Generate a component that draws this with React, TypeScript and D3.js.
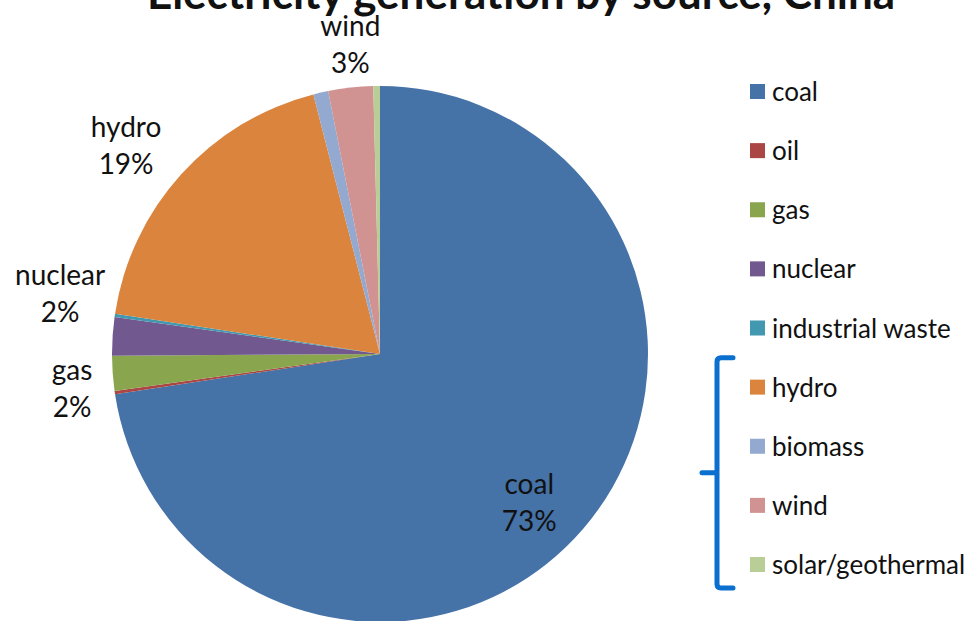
import * as d3 from "d3";
import { useEffect, useRef } from "react";

const sources = [
  "coal",
  "oil",
  "gas",
  "nuclear",
  "industrial waste",
  "hydro",
  "biomass",
  "wind",
  "solar/geothermal",
];
const shares = [72.6, 0.2, 2.1, 2.3, 0.2, 18.6, 0.9, 2.7, 0.4];
const colors = [
  "#4572A7",
  "#AA4643",
  "#89A54E",
  "#71588F",
  "#4198AF",
  "#DB843D",
  "#93A9CF",
  "#D19392",
  "#B9CD96",
];
// which slices carry a data label, with a small angle nudge (degrees) and radius factor
const labelled = ["coal", "gas", "nuclear", "hydro", "wind"];
const labelNudge: Record<string, [number, number]> = {
  coal: [4.5, 0.79],
  gas: [-2.5, 1.157],
  nuclear: [6.7, 1.214],
  hydro: [-2.9, 1.223],
  wind: [0.8, 1.155],
};
const title = "Electricity generation by source, China";
const bracketed = ["hydro", "biomass", "wind", "solar/geothermal"];

const W = 973;
const H = 621;

const App = () => {
  const svgRef = useRef<SVGSVGElement | null>(null);

  useEffect(() => {
    const svg = d3.select(svgRef.current);
    svg.selectAll("*").remove();
    svg.attr("width", W).attr("height", H);

    const font = "Lato, 'Open Sans', sans-serif";
    const cx = 380;
    const cy = 354;
    const R = 268;

    const data = sources.map((s, i) => ({ name: s, value: shares[i], color: colors[i] }));
    const pie = d3
      .pie<{ name: string; value: number; color: string }>()
      .value((d) => d.value)
      .sort(null);
    const arcs = pie(data);
    const arc = d3
      .arc<d3.PieArcDatum<{ name: string; value: number; color: string }>>()
      .innerRadius(0)
      .outerRadius(R);

    const g = svg.append("g").attr("transform", `translate(${cx},${cy})`);
    g.selectAll("path.slice")
      .data(arcs)
      .enter()
      .append("path")
      .attr("class", "slice")
      .attr("d", arc)
      .attr("fill", (d) => d.data.color);

    const total = d3.sum(shares);
    arcs
      .filter((a) => labelled.includes(a.data.name))
      .forEach((a) => {
        const [nudge, rf] = labelNudge[a.data.name];
        const mid = (a.startAngle + a.endAngle) / 2 + (nudge * Math.PI) / 180;
        const r = R * rf;
        const x = Math.sin(mid) * r;
        const y = -Math.cos(mid) * r;
        const t = g
          .append("text")
          .attr("x", x)
          .attr("y", y)
          .attr("text-anchor", "middle")
          .style("font-family", font)
          .style("font-size", "28px")
          .attr("fill", "#111");
        t.append("tspan").attr("x", x).attr("dy", -10).text(a.data.name);
        t.append("tspan")
          .attr("x", x)
          .attr("dy", 37)
          .text(`${Math.round((a.data.value / total) * 100)}%`);
      });

    // title (partly cut off at top, as in the source)
    svg
      .append("text")
      .attr("x", 521)
      .attr("y", 9)
      .attr("text-anchor", "middle")
      .style("font-family", font)
      .style("font-weight", "bold")
      .style("font-size", "44px")
      .attr("fill", "#111")
      .text(title);

    // legend
    const ly = d3
      .scalePoint<string>()
      .domain(sources)
      .range([92, 565]);
    const leg = svg.append("g");
    sources.forEach((s, i) => {
      const y = ly(s) as number;
      leg
        .append("rect")
        .attr("x", 750)
        .attr("y", y - 8)
        .attr("width", 15)
        .attr("height", 15)
        .attr("fill", colors[i]);
      leg
        .append("text")
        .attr("x", 772)
        .attr("y", y)
        .attr("dy", "0.35em")
        .style("font-family", font)
        .style("font-size", "26px")
        .attr("fill", "#111")
        .text(s);
    });

    // bracket around renewable group
    const top = (ly(bracketed[0]) as number) - 30;
    const bot = (ly(bracketed[bracketed.length - 1]) as number) + 23;
    const bx = 717;
    const midY = (top + bot) / 2;
    svg
      .append("path")
      .attr(
        "d",
        `M${bx + 16},${top} L${bx + 4},${top} Q${bx},${top} ${bx},${top + 4} L${bx},${bot - 4} Q${bx},${bot} ${bx + 4},${bot} L${bx + 16},${bot} M${bx - 15},${midY} L${bx},${midY}`
      )
      .attr("fill", "none")
      .attr("stroke", "#0A6FCF")
      .attr("stroke-width", 5)
      .attr("stroke-linecap", "round");
  }, []);

  return (
    <div style={{ position: "absolute", left: 0, top: 0, width: W, height: H, overflow: "hidden", background: "#fff" }}>
      <svg ref={svgRef} style={{ display: "block" }}></svg>
    </div>
  );
};

export default App;
